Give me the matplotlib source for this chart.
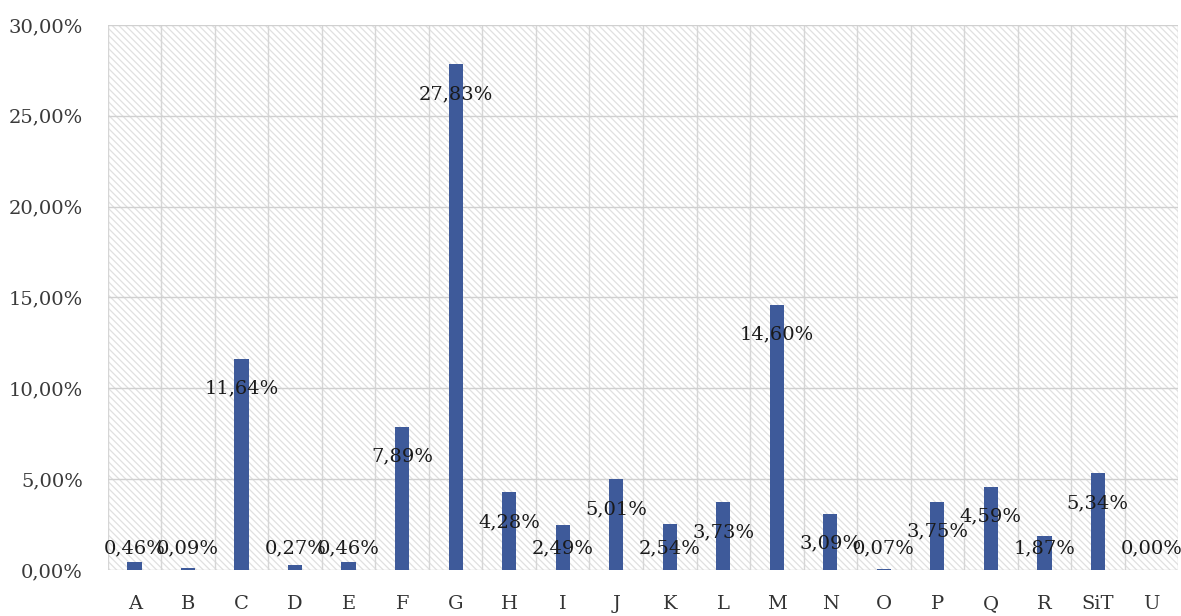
import matplotlib
matplotlib.use("Agg")
import matplotlib.pyplot as plt
import numpy as np
from matplotlib.patches import Rectangle

plt.rcParams.update({
    'font.family': ['DejaVu Serif'],
    'hatch.linewidth': 0.9,
})

# Data (percent)
categories = ['A', 'B', 'C', 'D', 'E', 'F', 'G', 'H', 'I', 'J',
              'K', 'L', 'M', 'N', 'O', 'P', 'Q', 'R', 'SiT', 'U']
shares = [0.46, 0.09, 11.64, 0.27, 0.46, 7.89, 27.83, 4.28, 2.49, 5.01,
          2.54, 3.73, 14.60, 3.09, 0.07, 3.75, 4.59, 1.87, 5.34, 0.00]
y_ticks = [0, 5, 10, 15, 20, 25, 30]


def pct(v):
    return f"{v:.2f}%".replace('.', ',')


fig = plt.figure(figsize=(11.81, 6.16), dpi=100)
ax = fig.add_axes([0.0914, 0.0747, 0.9061, 0.8847])

x = np.arange(len(categories))
bar_color = '#3e5a9a'

# hatched plot area
ax.patch.set_visible(False)
ax.add_patch(Rectangle((0, 0), 1, 1, transform=ax.transAxes, facecolor='white',
                       edgecolor='#e0e0e0', hatch='\\' * 5, lw=0, zorder=0))

ax.bar(x, shares, width=0.27, color=bar_color, zorder=2)

# labels sit "inside end", short bars get a floor
for xi, v in zip(x, shares):
    ly = max(v - 1.65, 1.2)
    ax.text(xi, ly, pct(v), ha='center', va='center', fontsize=14,
            color='#1a1a1a', zorder=3)

ax.set_xlim(-0.5, len(categories) - 0.5)
ax.set_ylim(0, 30)
ax.set_yticks(y_ticks)
ax.set_yticklabels([pct(t) for t in y_ticks])
ax.set_xticks(x)
ax.set_xticklabels(categories)
ax.set_xticks(np.arange(len(categories) + 1) - 0.5, minor=True)

ax.set_axisbelow(True)
ax.grid(axis='y', which='major', color='#d0d0d0', lw=1.0)
ax.grid(axis='x', which='minor', color='#d6d6d6', lw=1.0)
ax.grid(axis='x', which='major', visible=False)

for s in ax.spines.values():
    s.set_visible(False)

ax.tick_params(axis='both', which='both', length=0)
ax.tick_params(axis='x', pad=18, labelsize=14, colors='#333333')
ax.tick_params(axis='y', pad=18, labelsize=14, colors='#3a3a3a')

fig.savefig('out.png', dpi=100, facecolor='white')
